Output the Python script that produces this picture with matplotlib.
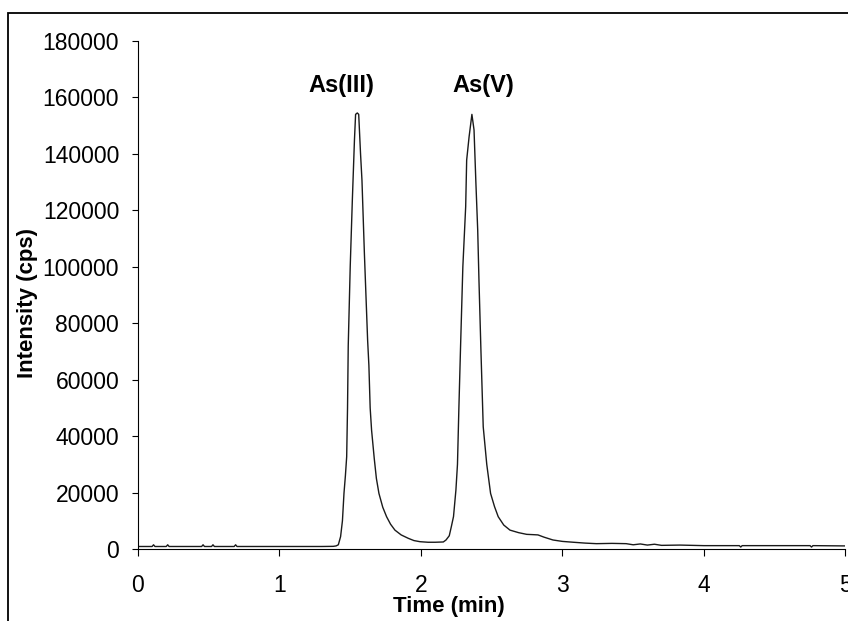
import matplotlib
matplotlib.use("Agg")
import matplotlib.pyplot as plt
from matplotlib.patches import Rectangle

plt.rcParams['font.family'] = ['Liberation Sans', 'DejaVu Sans']

# chromatogram: time (min), intensity (cps)
time_min = [0.00, 0.10, 0.11, 0.12, 0.20, 0.21, 0.22, 0.45, 0.46, 0.47,
            0.52, 0.53, 0.54, 0.68, 0.69, 0.70, 1.00, 1.30, 1.38, 1.40,
            1.416, 1.432, 1.445, 1.456, 1.466, 1.475, 1.481, 1.486, 1.50, 1.515,
            1.53, 1.538, 1.55, 1.56, 1.573, 1.583, 1.60, 1.623, 1.632, 1.641,
            1.651, 1.67, 1.685, 1.703, 1.73, 1.757, 1.785, 1.816, 1.86, 1.91,
            1.95, 1.993, 2.05, 2.10, 2.158, 2.177, 2.20, 2.215, 2.23, 2.247,
            2.258, 2.268, 2.28, 2.296, 2.316, 2.323, 2.34, 2.36, 2.375, 2.388,
            2.401, 2.41, 2.424, 2.44, 2.465, 2.492, 2.52, 2.546, 2.585, 2.629,
            2.69, 2.747, 2.79, 2.827, 2.87, 2.933, 3.00, 3.077, 3.16, 3.24,
            3.35, 3.45, 3.50, 3.55, 3.60, 3.65, 3.70, 3.83, 4.00, 4.25,
            4.26, 4.27, 4.50, 4.75, 4.76, 4.77, 5.00]
intensity = [900, 900, 1500, 900, 900, 1500, 900, 900, 1500, 900,
             900, 1500, 900, 900, 1500, 900, 900, 900, 950, 1100,
             1500, 4400, 10000, 19800, 26000, 32700, 50000, 72000, 100000, 123600,
             145000, 154000, 154500, 154000, 140000, 130700, 105000, 74000, 65000, 50000,
             42100, 32000, 25000, 19700, 14800, 11450, 8800, 6700, 5000, 3800,
             3000, 2600, 2400, 2400, 2500, 3200, 4700, 8000, 11500, 20900,
             30000, 50000, 72000, 100000, 121300, 137800, 146000, 154000, 148500, 130000,
             113000, 95000, 70000, 43300, 30000, 19700, 15000, 11450, 8500, 6700,
             5800, 5200, 5100, 5000, 4200, 3200, 2700, 2400, 2100, 1900,
             2000, 1900, 1500, 1800, 1400, 1700, 1300, 1400, 1200, 1200,
             700, 1200, 1200, 1200, 700, 1200, 1100]

peak_names = ['As(III)', 'As(V)']
peak_label_x = [1.44, 2.44]
peak_label_y = [164200, 164200]

x_ticks = [0, 1, 2, 3, 4, 5]
y_ticks = list(range(0, 180001, 20000))

fig = plt.figure(figsize=(8.48, 6.21), dpi=100)
ax = fig.add_axes([0.1627, 0.1159, 0.8343, 0.8181])

ax.plot(time_min, intensity, color='#1a1a1a', lw=1.0)

for name, lx, ly in zip(peak_names, peak_label_x, peak_label_y):
    ax.text(lx, ly, name, ha='center', va='center', fontsize=17, fontweight='bold')

ax.set_xlim(0, 5)
ax.set_ylim(0, 180000)
ax.set_xticks(x_ticks)
ax.set_yticks(y_ticks)
ax.set_xticklabels([str(t) for t in x_ticks])
ax.set_yticklabels([str(t) for t in y_ticks])
ax.tick_params(axis='x', direction='out', length=4.8, width=0.8, pad=13, labelsize=16.5)
ax.tick_params(axis='y', direction='out', length=4.5, width=0.8, pad=9, labelsize=16.5)

for s in ['top', 'right']:
    ax.spines[s].set_visible(False)
for s in ['left', 'bottom']:
    ax.spines[s].set_linewidth(0.8)

ax.set_xlabel('Time (min)', fontsize=16, fontweight='bold', va='center')
ax.xaxis.set_label_coords(0.44, -0.114)
ax.set_ylabel('Intensity (cps)', fontsize=16, fontweight='bold', va='center')
ax.yaxis.set_label_coords(-0.156, 0.484)

# outer chart border (right and bottom fall outside the picture)
fig.patches.append(Rectangle((8 / 848, -0.1), 1.1, (621 - 13) / 621 + 0.1,
                             transform=fig.transFigure, fill=False,
                             lw=1.3, ec='black'))

fig.savefig('out.png', dpi=100)
